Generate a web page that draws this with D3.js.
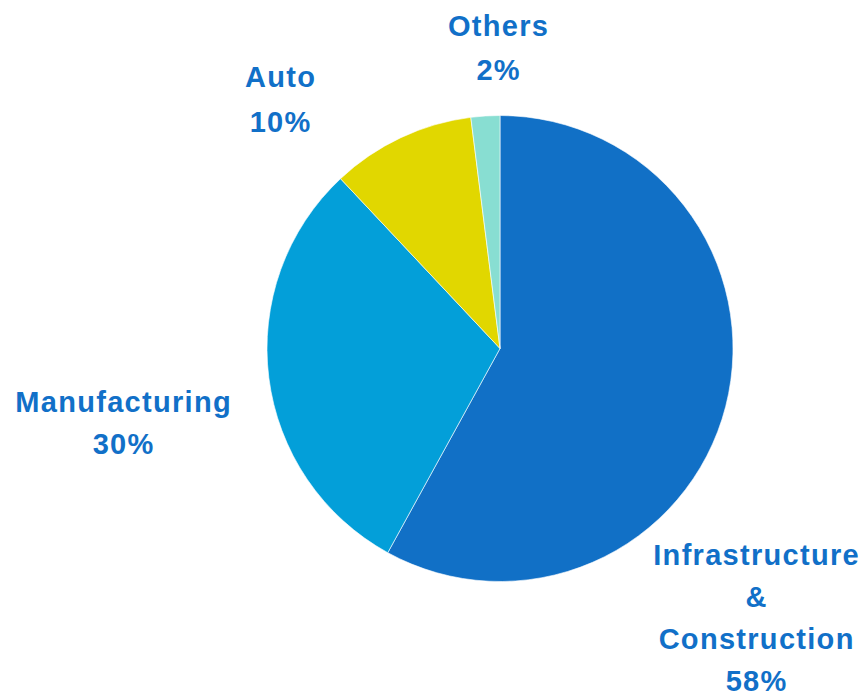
<!DOCTYPE html>
<html>
<head>
<meta charset="utf-8">
<script src="https://cdn.jsdelivr.net/npm/d3@7"></script>
<style>
  html, body { margin: 0; padding: 0; background: #ffffff; }
  svg { display: block; }
  .label { font-family: "Liberation Sans", Arial, sans-serif; font-weight: bold; fill: #1170c8; letter-spacing: 1.3px; }
</style>
</head>
<body>
<svg id="chart" width="862" height="696"></svg>
<script>
// Share of demand by end-use sector
const categories = ["Infrastructure & Construction", "Manufacturing", "Auto", "Others"];
const shares = [58, 30, 10, 2];
const labelLines = [
  ["Infrastructure", "&", "Construction", "58%"],
  ["Manufacturing", "30%"],
  ["Auto", "10%"],
  ["Others", "2%"]
];
const colors = ["#1170c6", "#039fd9", "#e1d700", "#88ded2"];

// Where each label block sits (x centre, first baseline, line gap)
const labelAnchors = [
  { x: 756, y: 565, gap: 42 },
  { x: 123, y: 412, gap: 42 },
  { x: 280, y: 87, gap: 45 },
  { x: 498, y: 36, gap: 44 }
];

const svg = d3.select("#chart");
const cx = 500, cy = 348.5, radius = 233;

const pie = d3.pie().sort(null).value(d => d)(shares);
const arc = d3.arc().innerRadius(0).outerRadius(radius);
const color = d3.scaleOrdinal().domain(categories).range(colors);

const g = svg.append("g").attr("transform", `translate(${cx},${cy})`);
g.selectAll("path")
  .data(pie)
  .join("path")
  .attr("d", arc)
  .attr("fill", (d, i) => color(categories[i]))
  .attr("stroke", "#ffffff")
  .attr("stroke-width", 0.6);

const labels = svg.selectAll("text.label")
  .data(categories)
  .join("text")
  .attr("class", "label")
  .attr("text-anchor", "middle")
  .attr("font-size", 29)
  .attr("x", (d, i) => labelAnchors[i].x)
  .attr("y", (d, i) => labelAnchors[i].y);

labels.each(function (d, i) {
  const a = labelAnchors[i];
  d3.select(this).selectAll("tspan")
    .data(labelLines[i])
    .join("tspan")
    .attr("x", a.x + 0.65)
    .attr("dy", (t, j) => j === 0 ? 0 : a.gap)
    .text(t => t);
});
</script>
</body>
</html>
